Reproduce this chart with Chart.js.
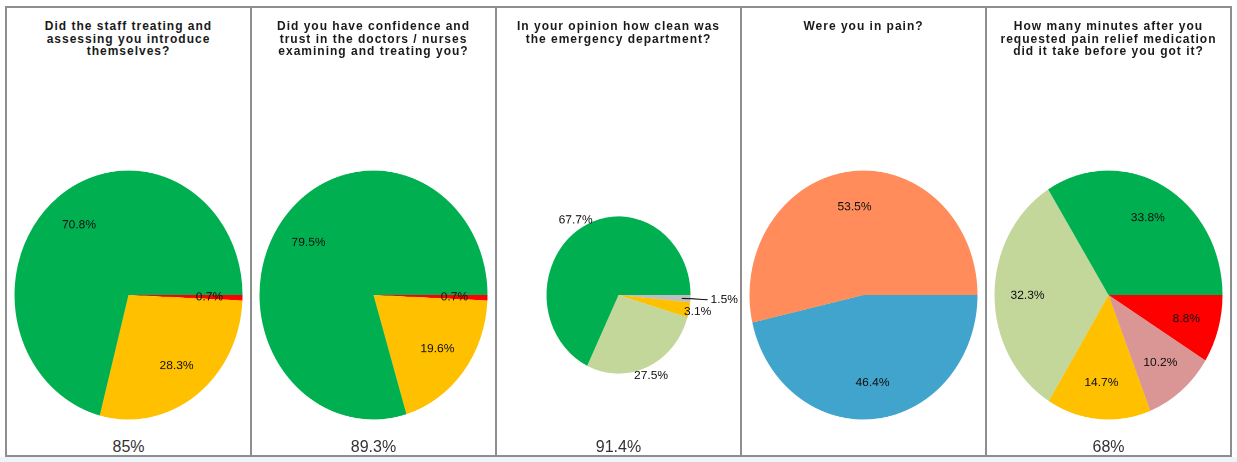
<!DOCTYPE html>
<html>
<head>
<meta charset="utf-8">
<script src="https://cdn.jsdelivr.net/npm/chart.js@4"></script>
<style>
  body { margin: 0; background: #fff; }
  #wrap { position: relative; width: 1237px; height: 462px; overflow: hidden; background: #fff; }
  .strip { position: absolute; left: 0; top: 457px; width: 1237px; height: 5px; background: #edf5fb; }
  .panel { position: absolute; top: 6px; width: 247px; height: 451px; box-sizing: border-box; border: 2px solid #8e8e8e; }
  .title { position: absolute; top: 20px; width: 243px; text-align: center; font: bold 12px "Liberation Sans", Arial, sans-serif; line-height: 12.5px; letter-spacing: 1px; color: #1a1a1a; }
  .score { position: absolute; top: 438.5px; width: 243px; text-align: center; font: 16px "Liberation Sans", Arial, sans-serif; line-height: 16px; color: #333; }
  canvas { position: absolute; }
</style>
</head>
<body>
<div id="wrap"><div class="strip"></div></div>
<script>
// question titles, one array of lines per panel
const titleLines = [
  ['Did the staff treating and', 'assessing you introduce', 'themselves?'],
  ['Did you have confidence and', 'trust in the doctors / nurses', 'examining and treating you?'],
  ['In your opinion how clean was', 'the emergency department?'],
  ['Were you in pain?'],
  ['How many minutes after you', 'requested pain relief medication', 'did it take before you got it?'],
];
const panelScores = ['85%', '89.3%', '91.4%', '', '68%'];

// slices in clockwise order, starting at 3 o'clock
const introCategories = ['No', 'Yes, some of them', 'Yes, all of them'];
const introValues = [0.7, 28.3, 70.8];

const trustCategories = ['No', 'Yes, to some extent', 'Yes, definitely'];
const trustValues = [0.7, 19.6, 79.5];

const cleanCategories = ['Not at all clean', 'Not very clean', 'Fairly clean', 'Very clean'];
const cleanValues = [1.5, 3.1, 27.5, 67.7];

const painCategories = ['No', 'Yes'];
const painValues = [46.4, 53.5];

const minutesCategories = ['More than 60', '31-60', '16-30', '6-15', '0-5'];
const minutesValues = [8.8, 10.2, 14.7, 32.3, 33.8];

const GREEN = '#00b050', AMBER = '#ffc000', RED = '#ff0000', OLIVE = '#c4d79b',
      GREY = '#bfbfbf', ORANGE = '#ff8c5a', BLUE = '#41a4cd', ROSE = '#da9694';

const panels = [
  { labels: introCategories, values: introValues, colors: [RED, AMBER, GREEN], radius: 114, at: 0.71 },
  { labels: trustCategories, values: trustValues, colors: [RED, AMBER, GREEN], radius: 114, at: 0.71 },
  { labels: cleanCategories, values: cleanValues, colors: [GREY, AMBER, OLIVE, GREEN], radius: 72, at: 1.12, leader: 0 },
  { labels: painCategories, values: painValues, colors: [BLUE, ORANGE], radius: 114, at: 0.71 },
  { labels: minutesCategories, values: minutesValues, colors: [RED, ROSE, AMBER, OLIVE, GREEN], radius: 114, at: 0.71 },
];

// the pies in the picture are a little taller than wide
const CANVAS_W = 245, CANVAS_H = 240, STRETCH = 1.092;

const sliceLabels = {
  id: 'sliceLabels',
  afterDatasetsDraw(chart, args, opts) {
    const ctx = chart.ctx;
    const values = chart.data.datasets[0].data;
    ctx.save();
    ctx.font = '12px "Liberation Sans", Arial, sans-serif';
    ctx.fillStyle = '#111';
    ctx.strokeStyle = '#111';
    ctx.lineWidth = 1;
    ctx.textBaseline = 'middle';
    chart.getDatasetMeta(0).data.forEach((arc, i) => {
      const p = arc.getProps(['x', 'y', 'startAngle', 'endAngle', 'outerRadius'], true);
      const mid = (p.startAngle + p.endAngle) / 2;
      const cos = Math.cos(mid), sin = Math.sin(mid);
      const text = values[i].toFixed(1) + '%';
      let r = p.outerRadius * opts.at;
      ctx.textAlign = 'center';
      if (opts.leader === i) {
        ctx.beginPath();
        ctx.moveTo(p.x + cos * p.outerRadius * 0.88, p.y + sin * p.outerRadius * 0.88);
        ctx.lineTo(p.x + cos * p.outerRadius * 1.24, p.y + sin * p.outerRadius * 1.24);
        ctx.stroke();
        r = p.outerRadius * 1.28;
        ctx.textAlign = 'left';
      }
      ctx.save();
      ctx.translate(p.x + cos * r, p.y + sin * r);
      ctx.scale(1, 1 / STRETCH);
      ctx.fillText(text, 0, 0);
      ctx.restore();
    });
    ctx.restore();
  }
};

const wrap = document.getElementById('wrap');
panels.forEach((cfg, k) => {
  const left = 5 + 245 * k;

  const box = document.createElement('div');
  box.className = 'panel';
  box.style.left = left + 'px';
  wrap.appendChild(box);

  const title = document.createElement('div');
  title.className = 'title';
  title.style.left = (left + 2) + 'px';
  title.innerHTML = titleLines[k].join('<br>');
  wrap.appendChild(title);

  if (panelScores[k]) {
    const score = document.createElement('div');
    score.className = 'score';
    score.style.left = (left + 2) + 'px';
    score.textContent = panelScores[k];
    wrap.appendChild(score);
  }

  const canvas = document.createElement('canvas');
  canvas.width = CANVAS_W;
  canvas.height = CANVAS_H;
  canvas.style.width = CANVAS_W + 'px';
  canvas.style.height = (CANVAS_H * STRETCH) + 'px';
  canvas.style.left = (left + 1) + 'px';
  canvas.style.top = (295 - CANVAS_H * STRETCH / 2) + 'px';
  wrap.appendChild(canvas);

  new Chart(canvas, {
    type: 'pie',
    data: {
      labels: cfg.labels,
      datasets: [{
        data: cfg.values,
        backgroundColor: cfg.colors,
        borderWidth: 0,
        radius: cfg.radius,
        rotation: 90,
      }],
    },
    options: {
      responsive: false,
      devicePixelRatio: 2,
      animation: false,
      layout: { padding: 0 },
      plugins: {
        legend: { display: false },
        tooltip: { enabled: false },
        sliceLabels: { at: cfg.at, leader: cfg.leader },
      },
    },
    plugins: [sliceLabels],
  });
});
</script>
</body>
</html>
